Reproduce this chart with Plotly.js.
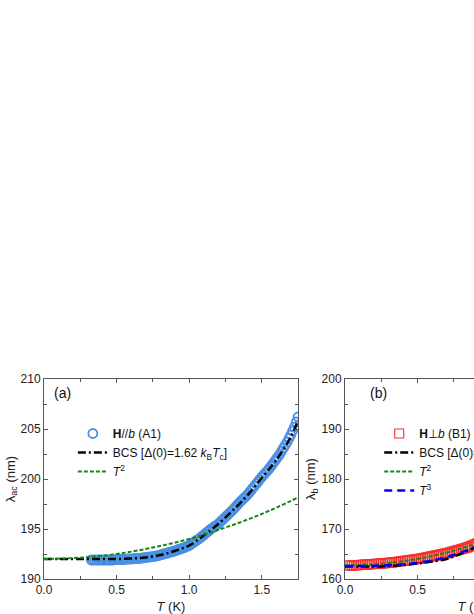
<!DOCTYPE html>
<html>
<head>
<meta charset="utf-8">
<script src="https://cdn.plot.ly/plotly-3.0.1.min.js"></script>
<style>
  html, body { margin: 0; padding: 0; overflow: hidden; background: #fff; }
  #chart { width: 620px; height: 614px; }
</style>
</head>
<body>
<div id="chart"></div>
<script>
// panel (a): lambda_ac vs T, H // b (A1)
const tA = [0.325, 0.3375, 0.35, 0.3625, 0.375, 0.3875, 0.4, 0.4125, 0.425, 0.4375, 0.45,
  0.4625, 0.475, 0.4875, 0.5, 0.5125, 0.525, 0.5375, 0.55, 0.5625, 0.575, 0.5875, 0.6,
  0.6125, 0.625, 0.6375, 0.65, 0.6625, 0.675, 0.6875, 0.7, 0.7125, 0.725, 0.7375, 0.75,
  0.7625, 0.775, 0.7875, 0.8, 0.8125, 0.825, 0.8375, 0.85, 0.8625, 0.875, 0.8875, 0.9,
  0.9125, 0.925, 0.9375, 0.95, 0.9625, 0.975, 0.9875, 1.0, 1.0125, 1.025, 1.0375, 1.05,
  1.0625, 1.075, 1.0875, 1.1, 1.1125, 1.125, 1.1375, 1.15, 1.1625, 1.175, 1.1875, 1.2,
  1.2125, 1.225, 1.2375, 1.25, 1.2625, 1.275, 1.2875, 1.3, 1.3125, 1.325, 1.3375, 1.35,
  1.3625, 1.375, 1.3875, 1.4, 1.4125, 1.425, 1.4375, 1.45, 1.4625, 1.475, 1.4875, 1.5,
  1.5125, 1.525, 1.5375, 1.55, 1.5625, 1.575, 1.5875, 1.6, 1.6125, 1.625, 1.6375, 1.65,
  1.6625, 1.675, 1.6875, 1.7, 1.7125, 1.725, 1.7375, 1.75];
const lambdaAc = [191.9, 191.9, 191.9, 191.9, 191.9, 191.9, 191.9, 191.9, 191.9, 191.9, 191.9,
  191.9, 191.9, 191.92, 191.95, 191.95, 191.95, 191.95, 191.95, 191.97, 192.0, 192.0, 192.0,
  192.02, 192.05, 192.05, 192.05, 192.07, 192.1, 192.12, 192.15, 192.17, 192.2, 192.22, 192.25,
  192.27, 192.3, 192.35, 192.4, 192.45, 192.5, 192.55, 192.6, 192.65, 192.7, 192.75, 192.8,
  192.87, 192.95, 193.0, 193.05, 193.12, 193.2, 193.27, 193.35, 193.47, 193.6, 193.72, 193.85,
  193.97, 194.1, 194.25, 194.4, 194.55, 194.7, 194.85, 195.0, 195.12, 195.25, 195.37, 195.5,
  195.67, 195.85, 196.02, 196.2, 196.37, 196.55, 196.72, 196.9, 197.1, 197.3, 197.5, 197.7,
  197.87, 198.05, 198.22, 198.4, 198.62, 198.85, 199.07, 199.3, 199.52, 199.75, 199.97, 200.2,
  200.4, 200.6, 200.8, 201.0, 201.25, 201.5, 201.75, 202.0, 202.25, 202.5, 202.8, 203.1,
  203.4, 203.7, 204.05, 204.4, 204.8, 205.2, 205.7, 206.2];

const tBcsA = [0, 0.1, 0.2, 0.3, 0.4, 0.5, 0.6, 0.7, 0.8, 0.9, 1.0, 1.1, 1.2, 1.3, 1.4, 1.5, 1.6, 1.7, 1.75];
const bcsA = [192.0, 192.0, 192.0, 192.0, 192.0, 192.0, 192.05, 192.15, 192.4, 192.8, 193.35,
  194.35, 195.5, 196.85, 198.35, 200.1, 201.9, 204.2, 205.9];

const tPowA = [0, 0.25, 0.5, 0.75, 1.0, 1.25, 1.5, 1.75];
const t2A = [192.0, 192.13, 192.5, 193.15, 194.0, 195.15, 196.5, 198.15];

// panel (b): lambda_b vs T, H perp b (B1)
const tB = [0.025, 0.0375, 0.05, 0.0625, 0.075, 0.0875, 0.1, 0.1125, 0.125, 0.1375, 0.15,
  0.1625, 0.175, 0.1875, 0.2, 0.2125, 0.225, 0.2375, 0.25, 0.2625, 0.275, 0.2875, 0.3,
  0.3125, 0.325, 0.3375, 0.35, 0.3625, 0.375, 0.3875, 0.4, 0.4125, 0.425, 0.4375, 0.45,
  0.4625, 0.475, 0.4875, 0.5, 0.5125, 0.525, 0.5375, 0.55, 0.5625, 0.575, 0.5875, 0.6,
  0.6125, 0.625, 0.6375, 0.65, 0.6625, 0.675, 0.6875, 0.7, 0.7125, 0.725, 0.7375, 0.75,
  0.7625, 0.775, 0.7875, 0.8, 0.8125, 0.825, 0.8375, 0.85, 0.8625, 0.875, 0.8875, 0.9,
  0.9125, 0.925, 0.9375, 0.95, 0.9625, 0.975, 0.9875, 1.0];
const lambdaB = [162.7, 162.7, 162.7, 162.72, 162.75, 162.77, 162.8, 162.82, 162.85, 162.87,
  162.9, 162.92, 162.95, 162.97, 163.0, 163.02, 163.05, 163.07, 163.1, 163.12, 163.15, 163.2,
  163.25, 163.27, 163.3, 163.35, 163.4, 163.45, 163.5, 163.55, 163.6, 163.65, 163.7, 163.75,
  163.8, 163.85, 163.9, 163.95, 164.0, 164.05, 164.1, 164.17, 164.25, 164.32, 164.4, 164.47,
  164.55, 164.62, 164.7, 164.77, 164.85, 164.92, 165.0, 165.07, 165.15, 165.25, 165.35, 165.45,
  165.55, 165.65, 165.75, 165.85, 165.95, 166.05, 166.15, 166.27, 166.4, 166.55, 166.7, 166.85,
  167.0, 167.15, 167.3, 167.45, 167.6, 167.75, 167.9, 168.05, 168.2];

const tBcsB = [0, 0.1, 0.2, 0.3, 0.4, 0.5, 0.6, 0.7, 0.8, 0.9, 1.0];
const bcsB = [162.5, 162.5, 162.5, 162.6, 162.8, 163.1, 163.5, 164.0, 165.1, 166.4, 167.9];

const tPowB = [0, 0.25, 0.5, 0.75, 1.0];
const t2B = [162.7, 163.03, 164.03, 165.68, 168.0];
const t3B = [162.6, 162.68, 163.25, 164.8, 167.8];

const xTicks = [0, 0.5, 1.0, 1.5];
const xTickText = ['0.0', '0.5', '1.0', '1.5'];

const FONT = 'Arial, "Liberation Sans", sans-serif';
const AXIS = '#555';
const BLUE_MK = 'rgb(74,144,226)';
const GREEN = 'rgb(20,135,20)';

function xAxis(anchor) {
  return {
    anchor: anchor, range: [0, 1.75], showline: true, linecolor: AXIS, linewidth: 1,
    mirror: 'allticks', ticks: 'inside', ticklen: 4, tickcolor: AXIS,
    tickvals: xTicks, ticktext: xTickText, showgrid: false, zeroline: false,
    minor: {ticks: 'inside', ticklen: 3, tickcolor: AXIS, dtick: 0.25, showgrid: false},
    tickfont: {family: FONT, size: 12, color: '#222'},
    title: {text: '<i>T</i> (K)', font: {family: FONT, size: 13, color: '#222'}, standoff: 6}
  };
}
function yAxis(anchor, range, dtick, title) {
  return {
    anchor: anchor, range: range, dtick: dtick, showline: true, linecolor: AXIS, linewidth: 1,
    mirror: 'allticks', ticks: 'inside', ticklen: 4, tickcolor: AXIS,
    showgrid: false, zeroline: false,
    minor: {ticks: 'inside', ticklen: 3, tickcolor: AXIS, dtick: dtick / 2, showgrid: false},
    tickfont: {family: FONT, size: 12, color: '#222'},
    title: {text: title, font: {family: FONT, size: 13, color: '#222'}, standoff: 2}
  };
}

const bcsDash = '8px,3px,2px,3px';

const traces = [
  {x: tA, y: lambdaAc, xaxis: 'x', yaxis: 'y', mode: 'markers', type: 'scatter',
   name: '<b>H</b>//<i>b</i> (A1)', legend: 'legend',
   marker: {symbol: 'circle-open', size: 9, color: BLUE_MK, line: {width: 1.8}}},
  {x: tBcsA, y: bcsA, xaxis: 'x', yaxis: 'y', mode: 'lines', type: 'scatter',
   name: 'BCS [Δ(0)=1.62 <i>k</i><sub>B</sub><i>T</i><sub>c</sub>]', legend: 'legend',
   line: {color: '#000', width: 2.5, dash: bcsDash, shape: 'spline'}},
  {x: tPowA, y: t2A, xaxis: 'x', yaxis: 'y', mode: 'lines', type: 'scatter',
   name: '<i>T</i><sup>2</sup>', legend: 'legend',
   line: {color: GREEN, width: 2, dash: '4px,2px', shape: 'spline'}},

  {x: tB, y: lambdaB, xaxis: 'x2', yaxis: 'y2', mode: 'markers', type: 'scatter',
   name: '<b>H</b>⊥<i>b</i> (B1)', legend: 'legend2',
   marker: {symbol: 'square-open', size: 9, color: 'rgb(250,45,45)', line: {width: 1.1}}},
  {x: tBcsB, y: bcsB, xaxis: 'x2', yaxis: 'y2', mode: 'lines', type: 'scatter',
   name: 'BCS [Δ(0)=1.76 <i>k</i><sub>B</sub><i>T</i><sub>c</sub>]', legend: 'legend2',
   line: {color: '#000', width: 2.5, dash: bcsDash, shape: 'spline'}},
  {x: tPowB, y: t2B, xaxis: 'x2', yaxis: 'y2', mode: 'lines', type: 'scatter',
   name: '<i>T</i><sup>2</sup>', legend: 'legend2',
   line: {color: GREEN, width: 2, dash: '4px,2px', shape: 'spline'}},
  {x: tPowB, y: t3B, xaxis: 'x2', yaxis: 'y2', mode: 'lines', type: 'scatter',
   name: '<i>T</i><sup>3</sup>', legend: 'legend2',
   line: {color: '#0000ff', width: 2.5, dash: '8px,5px', shape: 'spline'}}
];

const legendFont = {family: FONT, size: 12, color: '#111'};
const layout = {
  width: 620, height: 614,
  margin: {l: 44, r: 21, t: 379, b: 35},
  paper_bgcolor: '#fff', plot_bgcolor: '#fff',
  showlegend: true,
  xaxis: Object.assign(xAxis('y'), {domain: [0, 0.4577]}),
  yaxis: yAxis('x', [190, 210], 5, 'λ<sub>ac</sub> (nm)'),
  xaxis2: Object.assign(xAxis('y2'), {domain: [0.5423, 1]}),
  yaxis2: yAxis('x2', [160, 200], 10, 'λ<sub>b</sub> (nm)'),
  legend: {x: 0.052, y: 0.80, xanchor: 'left', yanchor: 'top', bgcolor: 'rgba(0,0,0,0)',
           font: legendFont, tracegroupgap: 0},
  legend2: {x: 0.604, y: 0.80, xanchor: 'left', yanchor: 'top', bgcolor: 'rgba(0,0,0,0)',
            font: legendFont, tracegroupgap: 0},
  annotations: [
    {text: '(a)', xref: 'x domain', yref: 'y domain', x: 0.03, y: 0.93, xanchor: 'left',
     yanchor: 'middle', showarrow: false, font: {family: FONT, size: 14, color: '#111'}},
    {text: '(b)', xref: 'x2 domain', yref: 'y2 domain', x: 0.09, y: 0.93, xanchor: 'left',
     yanchor: 'middle', showarrow: false, font: {family: FONT, size: 14, color: '#111'}}
  ]
};

Plotly.newPlot('chart', traces, layout, {displayModeBar: false, staticPlot: true});
</script>
</body>
</html>
